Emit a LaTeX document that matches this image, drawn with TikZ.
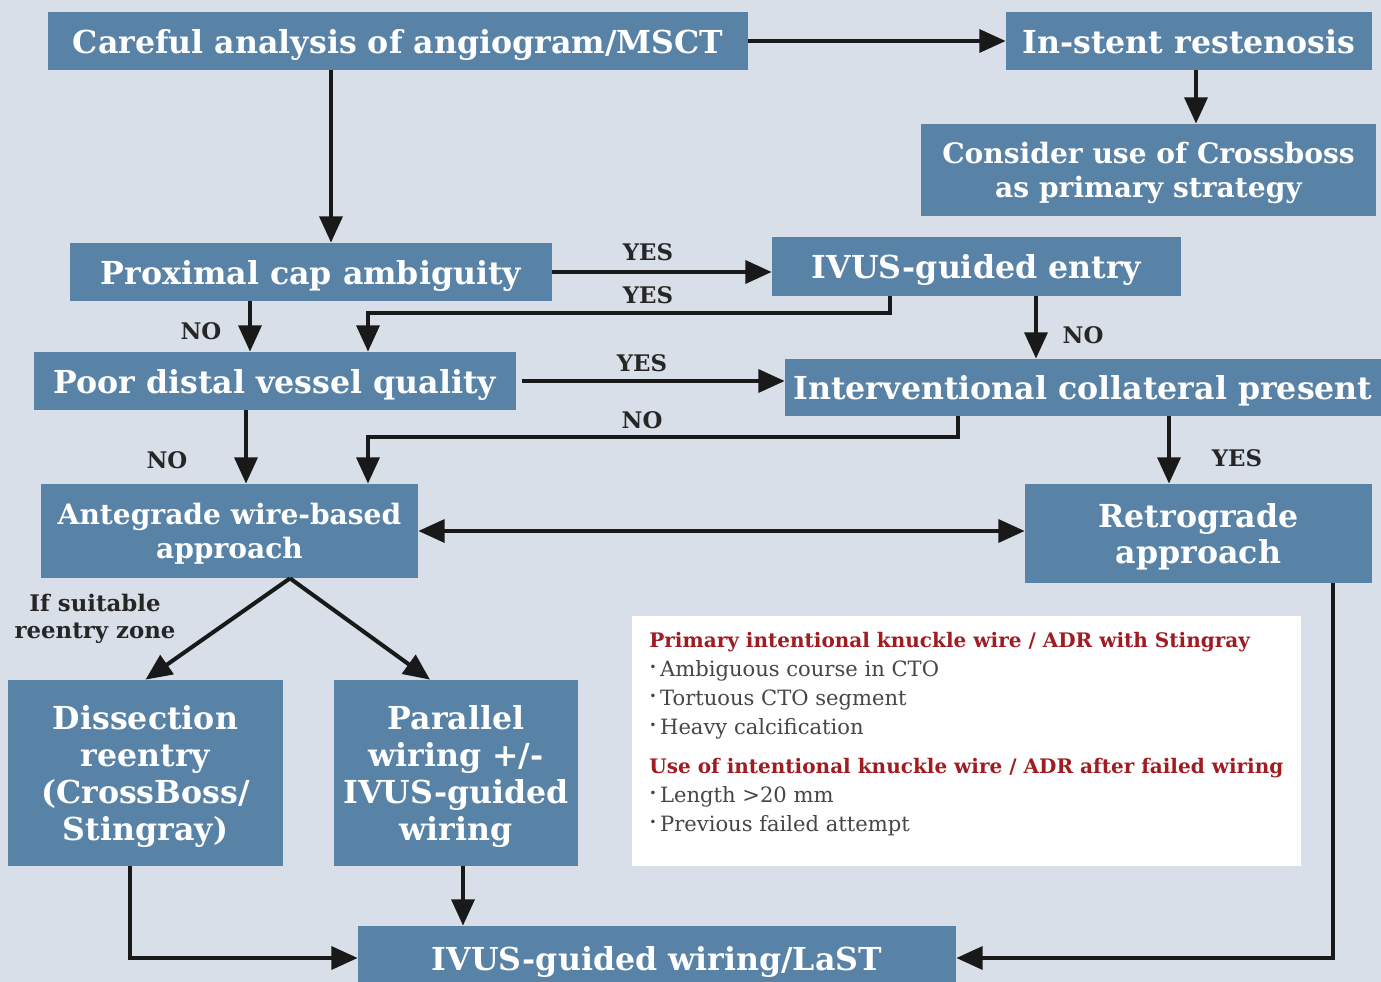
\documentclass[tikz,border=0pt]{standalone}
\usepackage{fontspec}
\setmainfont{DejaVu Serif}
\usetikzlibrary{arrows.meta,positioning}
\definecolor{bgblue}{RGB}{216,223,233}
\definecolor{boxblue}{RGB}{89,130,167}
\definecolor{headred}{RGB}{158,28,34}
\definecolor{bodygray}{RGB}{70,70,70}
\tikzset{
	box/.style={fill=boxblue, text=white, inner sep=0pt, align=center, text depth=0pt,
		font=\bfseries\fontsize{18}{21}\selectfont},
	twoline/.style={box, font=\bfseries\fontsize{16}{19}\selectfont},
	flow/.style={line width=2.3pt, draw=black!90, -{Triangle[length=15pt,width=13pt]}},
	lbl/.style={font=\bfseries\fontsize{13}{15}\selectfont, text=black!85, inner sep=0pt},
}
\newcommand{\itm}{{\scriptsize\raisebox{2.5pt}{\textbullet}}\,}
\begin{document}
\begin{tikzpicture}[x=0.02cm, y=-0.02cm]
			% Background
			\useasboundingbox (0,0) rectangle (1381,982);
			\fill[bgblue] (0,0) rectangle (1381,982);

			% Top row
			\node[box, minimum width=14cm, minimum height=1.16cm] (analysis) at (398,41)
				{Careful analysis of angiogram/MSCT};
			\node[box, minimum width=7.32cm, minimum height=1.16cm] (restenosis) at (1189,41)
				{In-stent restenosis};
			\node[twoline, minimum width=9.1cm, minimum height=1.84cm] (crossboss) at (1148.5,170)
				{Consider use of Crossboss\\as primary strategy};

			% Decision boxes
			\node[box, minimum width=9.64cm, minimum height=1.16cm] (proxcap) at (311,272)
				{Proximal cap ambiguity};
			\node[box, minimum width=8.18cm, minimum height=1.18cm] (ivusentry) at (976.5,266.5)
				{IVUS-guided entry};
			\node[box, minimum width=9.64cm, minimum height=1.16cm] (distal) at (275,381)
				{Poor distal vessel quality};
			\node[box, minimum width=11.92cm, minimum height=1.14cm] (collateral) at (1083,387.5)
				{Interventional collateral present};

			% Approaches
			\node[twoline, minimum width=7.54cm, minimum height=1.88cm] (antegrade) at (229.5,531)
				{Antegrade wire-based\\approach};
			\node[box, minimum width=6.94cm, minimum height=1.98cm] (retrograde) at (1198.5,533.5)
				{Retrograde\\approach};
			\node[box, minimum width=5.5cm, minimum height=3.72cm] (dissection) at (145.5,773)
				{Dissection\\reentry\\(CrossBoss/\\Stingray)};
			\node[box, minimum width=4.88cm, minimum height=3.72cm] (parallel) at (456,773)
				{Parallel\\wiring +/-\\IVUS-guided\\wiring};
			\node[box, minimum width=11.96cm, minimum height=1.28cm] (last) at (657,958)
				{IVUS-guided wiring/LaST};

			% Note box
			\node[fill=white, minimum width=13.38cm, minimum height=5cm] (note) at (966.5,741) {};
			\node[anchor=north west, align=left, inner sep=0pt, text=bodygray,
				font=\fontsize{12}{16.4}\selectfont] (notetext) at (649,632)
				{{\color{headred}\bfseries\fontsize{11.4}{16.4}\selectfont Primary intentional knuckle wire / ADR with Stingray}\\
				 \itm Ambiguous course in CTO\\
				 \itm Tortuous CTO segment\\
				 \itm Heavy calcification\\[6pt]
				 {\color{headred}\bfseries\fontsize{11.4}{16.4}\selectfont Use of intentional knuckle wire / ADR after failed wiring}\\
				 \itm Length >20 mm\\
				 \itm Previous failed attempt};

			% Arrows from the top row
			\draw[flow] (analysis) -- (restenosis);
			\draw[flow] (331,0 |- analysis.south) -- (331,0 |- proxcap.north);
			\draw[flow] (1196,0 |- restenosis.south) -- (1196,0 |- crossboss.north);

			% Proximal cap ambiguity
			\draw[flow] (proxcap) -- (proxcap -| ivusentry.west);
			\node[lbl] (yes1) at (648,252) {YES};
			\draw[flow] (250,0 |- proxcap.south) -- (250,0 |- distal.north);
			\node[lbl] (no1) at (201,331) {NO};

			% IVUS-guided entry
			\draw[flow] (890,0 |- ivusentry.south) |- (368,313) -- (368,0 |- distal.north);
			\node[lbl] (yes2) at (648,295) {YES};
			\draw[flow] (1036,0 |- ivusentry.south) -- (1036,0 |- collateral.north);
			\node[lbl] (no2) at (1083,335) {NO};

			% Poor distal vessel quality
			\draw[flow] ([xshift=3pt]distal.east) -- (distal.east -| collateral.west);
			\node[lbl] (yes3) at (642,363) {YES};
			\draw[flow] (246,0 |- distal.south) -- (246,0 |- antegrade.north);
			\node[lbl] (no3) at (167,460) {NO};

			% Interventional collateral present
			\draw[flow] (958,0 |- collateral.south) |- (368,437) -- (368,0 |- antegrade.north);
			\node[lbl] (no4) at (642,420) {NO};
			\draw[flow] (1169,0 |- collateral.south) -- (1169,0 |- retrograde.north);
			\node[lbl] (yes4) at (1237,458) {YES};

			% Antegrade / retrograde
			\draw[flow, {Triangle[length=15pt,width=13pt]}-{Triangle[length=15pt,width=13pt]}]
				(antegrade.east) -- (antegrade.east -| retrograde.west);
			\draw[flow] (290,0 |- antegrade.south) -- (dissection.north);
			\draw[flow] (290,0 |- antegrade.south) -- (430,0 |- parallel.north);
			\node[lbl, align=center] (reentry) at (95,619) {If suitable\\reentry zone};

			% Into IVUS-guided wiring/LaST
			\draw[flow] (130,0 |- dissection.south) |- (last.west);
			\draw[flow] (463,0 |- parallel.south) -- (463,0 |- last.north);
			\draw[flow] (1333,0 |- retrograde.south) |- (last.east);
		\end{tikzpicture}
\end{document}
